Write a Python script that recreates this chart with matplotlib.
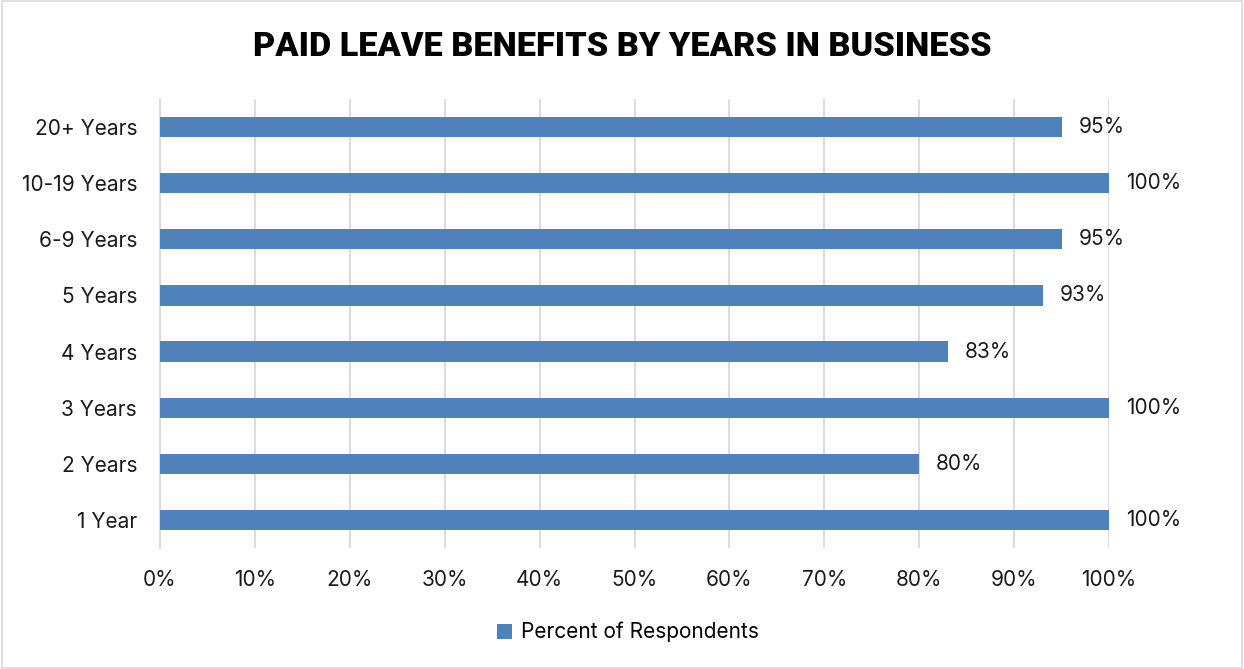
import matplotlib.pyplot as plt
from matplotlib.patches import Rectangle
from matplotlib.ticker import PercentFormatter

categories = ['1 Year', '2 Years', '3 Years', '4 Years', '5 Years',
              '6-9 Years', '10-19 Years', '20+ Years']
percent = [100, 80, 100, 83, 93, 95, 100, 95]

plt.rcParams['font.family'] = ['Inter', 'DejaVu Sans']

fig = plt.figure(figsize=(12.44, 6.69), dpi=100)
ax = fig.add_axes([0.1286, 0.181, 0.7629, 0.671])

bar_color = '#4f81bd'
text_color = '#1a1a1a'
fs = 15

bars = ax.barh(range(len(categories)), percent, height=0.36,
               color=bar_color, label='Percent of Respondents', zorder=3)

# value labels just past the end of each bar
for b, v in zip(bars, percent):
    ax.annotate(f'{v}%', (b.get_width(), b.get_y() + b.get_height() / 2),
                xytext=(17, 0), textcoords='offset pixels',
                va='center', ha='left', fontsize=fs, color=text_color)

ax.set_xlim(0, 100)
ax.set_ylim(-0.5, len(categories) - 0.5)
ax.set_xticks(range(0, 101, 10))
ax.xaxis.set_major_formatter(PercentFormatter(decimals=0))
ax.set_yticks(range(len(categories)))
ax.set_yticklabels(categories)
ax.tick_params(axis='both', length=0, labelsize=fs, labelcolor=text_color)
ax.tick_params(axis='x', pad=16)
ax.tick_params(axis='y', pad=16.5)

ax.grid(axis='x', color='#d9d9d9', linewidth=1.3, zorder=0)
for side in ['top', 'right', 'bottom']:
    ax.spines[side].set_visible(False)
ax.spines['left'].set_color('#d9d9d9')
ax.spines['left'].set_linewidth(1.3)

fig.text(0.5, 0.93, 'PAID LEAVE BENEFITS BY YEARS IN BUSINESS',
         ha='center', va='center', fontsize=24.7, fontweight='black',
         color='black', family=['Roboto', 'DejaVu Sans'])

fig.legend(loc='center', bbox_to_anchor=(0.5045, 0.055), frameon=False,
           fontsize=fs, handlelength=0.75, handleheight=0.75, handletextpad=0.4)

# thin outline around the whole chart area
fig.patches.append(Rectangle((0.002, 0.002), 0.996, 0.996, transform=fig.transFigure,
                             fill=False, edgecolor='#d9d9d9', linewidth=1.2))

fig.savefig('out.png', dpi=100)
